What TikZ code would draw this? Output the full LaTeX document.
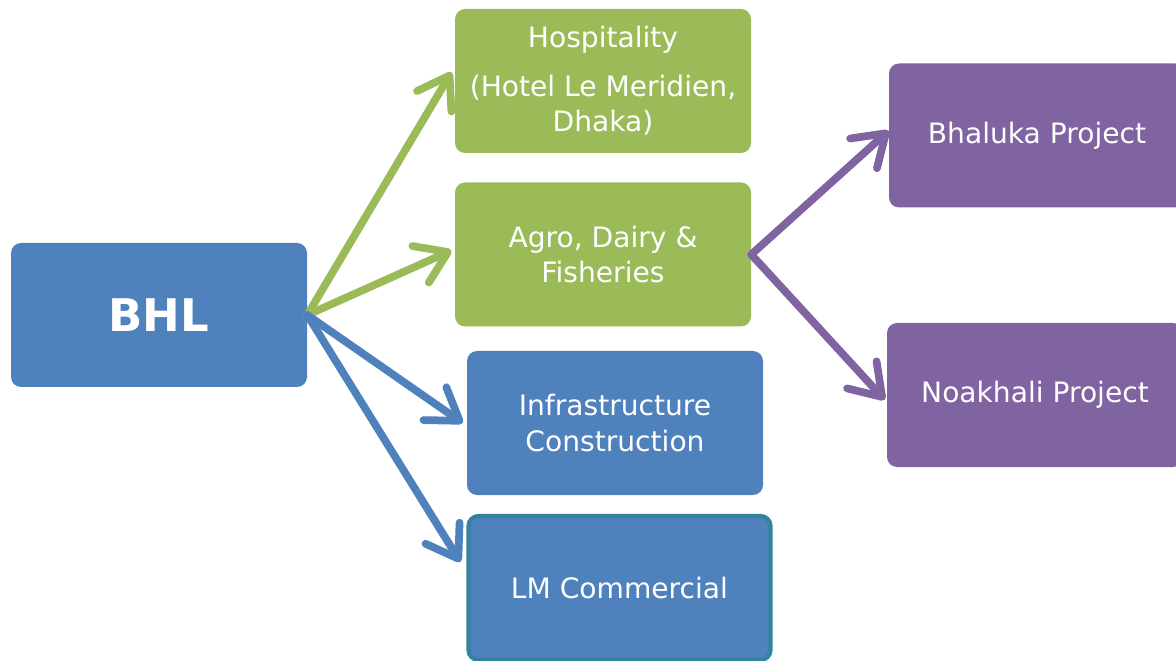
\documentclass[tikz,border=0pt]{standalone}
\usepackage{fontspec}
\setmainfont{DejaVu Sans}
\usetikzlibrary{arrows.meta}

\definecolor{bhlblue}{HTML}{4F81BD}
\definecolor{bhlgreen}{HTML}{9BBB59}
\definecolor{bhlpurple}{HTML}{8064A2}
\definecolor{bhlteal}{HTML}{31849B}

\begin{document}
\begin{tikzpicture}[
  every node/.style={font=\fontsize{20}{25}\selectfont, text=white, align=center},
  box/.style={rounded corners=.25cm, minimum width=7.4cm, minimum height=3.6cm, inner sep=0pt},
  bluebox/.style={box, fill=bhlblue},
  greenbox/.style={box, fill=bhlgreen},
  purplebox/.style={box, fill=bhlpurple},
  link/.style={line width=5.5pt, line cap=round,
    -{Straight Barb[length=7.5mm, width=10mm, round]}},
  ]
  \useasboundingbox (0,0) rectangle (29.4,16.5);

  \coordinate (B) at (3.975,8.625);
  \coordinate (H) at (15.075,14.475);
  \coordinate (A) at (15.075,10.1375);
  \coordinate (I) at (15.375,5.925);
  \coordinate (L) at (15.4875,1.8);
  \coordinate (K) at (25.925,13.1125);
  \coordinate (N) at (25.875,6.625);

  \node[bluebox, font=\fontsize{32}{36}\selectfont\bfseries] (bhl) at (B) {BHL};
  \node[greenbox] (hosp) at (H) {Hospitality\\[.35cm](Hotel Le Meridien,\\Dhaka)};
  \node[greenbox] (agro) at (A) {Agro, Dairy \&\\Fisheries};
  \node[bluebox] (infra) at (I) {Infrastructure\\Construction};
  \node[bluebox, draw=bhlteal, line width=3pt, minimum width=7.55cm] (lm) at (L) {LM Commercial};
  \node[purplebox] (bhal) at (K) {Bhaluka Project};
  \node[purplebox] (noak) at (N) {Noakhali Project};

  \draw[link, bhlgreen] (bhl.east) -- ([yshift=.22cm, xshift=-.08cm]hosp.west);
  \draw[link, bhlgreen] (bhl.east) -- ([yshift=.1cm, xshift=-.08cm]agro.west);
  \draw[link, bhlblue] (bhl.east) -- ([xshift=-.1cm]infra.west);
  \draw[link, bhlblue] (bhl.east) -- ([yshift=.65cm, xshift=-.15cm]lm.west);
  \draw[link, bhlpurple] (agro.east) -- ([yshift=.12cm]bhal.west);
  \draw[link, bhlpurple] (agro.east) -- ([yshift=-.12cm, xshift=-.05cm]noak.west);
\end{tikzpicture}
\end{document}
